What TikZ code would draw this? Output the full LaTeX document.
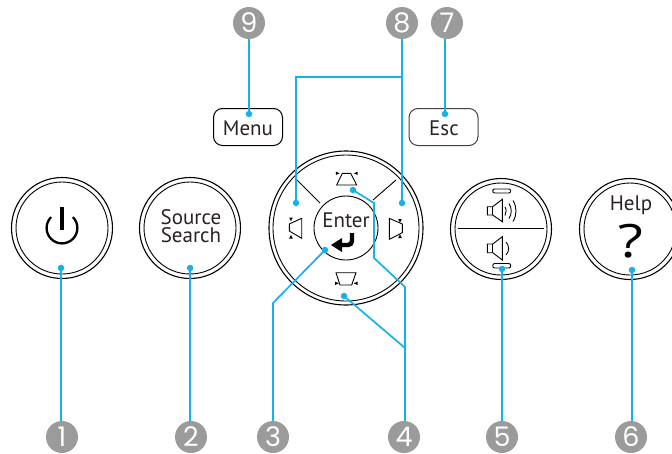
\documentclass[tikz,border=0pt]{standalone}
\usepackage{fontspec}
\setmainfont{PT Sans}
\definecolor{lead}{HTML}{16B1E8}
\definecolor{badgegray}{HTML}{9B9B9B}
\definecolor{ink}{HTML}{2A2122}
\newfontfamily\digitfont{Poppins}
\newfontfamily\qfont{Open Sans}
\tikzset{
  outerring/.style={circle,draw=black,line width=1.1pt,minimum size=#1,inner sep=0pt},
  innerring/.style={circle,draw=black,line width=0.9pt,minimum size=#1,inner sep=0pt},
  badge/.style={circle,fill=badgegray,minimum size=32pt,inner sep=0pt,text=white,font=\digitfont\fontsize{27}{27}\selectfont},
  keybox/.style={draw=black,line width=1pt,rounded corners=9pt,minimum width=69pt,minimum height=37pt,inner sep=0pt},
  label/.style={text=ink,inner sep=0pt,font=\fontsize{21}{21}\selectfont},
  dot/.style={circle,fill=lead,minimum size=6.5pt,inner sep=0pt},
  leader/.style={draw=lead,line width=1.7pt},
  icon/.style={draw=black,line width=0.9pt,line join=miter},
  tick/.style={fill=black,draw=none},
}
\begin{document}
\begin{tikzpicture}[x=1pt,y=-1pt]
\useasboundingbox (0,0) rectangle (672,453);
% buttons
\node[outerring=101pt] (power) at (62,228) {};
\node[innerring=92pt] at (62,228) {};
\node[outerring=101pt] (source) at (190,228) {};
\node[innerring=92pt] at (190,228) {};
\node[outerring=154pt] (pad) at (346,228) {};
\node[innerring=146pt] at (346,228) {};
\node[innerring=64pt] (enterkey) at (346,228) {};
\node[outerring=101pt] (volume) at (501,229) {};
\node[innerring=92pt] at (501,229) {};
\node[outerring=101pt] (help) at (630,229) {};
\node[innerring=92pt] at (630,229) {};
\node[keybox] (menu) at (248,127) {};
\node[keybox,draw=black!75] (esc) at (443.5,127) {};
% texts
\node[label,align=center,font=\fontsize{21}{18.5}\selectfont] (tsource) at (191,226) {Source\\Search};
\node[label] (tenter) at (346,220.5) {Enter};
\node[label] (thelp) at (631,205) {Help};
\node[label] (tmenu) at (248,128) {Menu};
\node[label] (tesc) at (444,128) {Esc};
\node[text=black,inner sep=0pt,xscale=1.25,transform shape,font=\qfont\fontsize{46}{46}\selectfont] (tq) at (631,241) {?};
% power glyph
\draw[black,line width=2.3pt] (51.1,217.1) arc[start angle=135,end angle=405,radius=15.4pt];
\draw[black,line width=4pt] (62,207) -- (62,229.5);
% spokes
\draw[icon] (297,180) -- (320,203);
\draw[icon] (396,180) -- (373,200);
% trapezoids
\draw[icon] (342.3,173.3) -- (350.7,173.3) -- (356.7,185) -- (336.7,185) -- cycle;
\draw[icon] (336,272.7) -- (356,272.7) -- (351.7,285) -- (340,285) -- cycle;
\draw[icon] (289.3,224) -- (301.7,218.3) -- (301.7,238.3) -- (289.3,231) -- cycle;
\draw[icon] (389.3,218.3) -- (402.3,224) -- (402.3,232.7) -- (389.3,239.3) -- cycle;
\fill[tick] (339.5,173.3) -- (335.8,171.6) -- (335.8,175) -- cycle;
\fill[tick] (354,173.3) -- (357.7,171.6) -- (357.7,175) -- cycle;
\fill[tick] (338.8,283.3) -- (335,281.6) -- (335,285) -- cycle;
\fill[tick] (353.7,283.3) -- (357.5,281.6) -- (357.5,285) -- cycle;
\fill[tick] (291,221) -- (289.2,217.5) -- (292.8,217.5) -- cycle;
\fill[tick] (291,235) -- (289.2,238.5) -- (292.8,238.5) -- cycle;
\fill[tick] (400,222.5) -- (398.2,219) -- (401.8,219) -- cycle;
\fill[tick] (400,234.5) -- (398.2,238) -- (401.8,238) -- cycle;
% enter arrow
\draw[black,line width=4.4pt,rounded corners=4pt] (352,233) -- (352,245) -- (338,245);
\fill[black] (331,245) -- (342,238) -- (342,252) -- cycle;
% volume
\draw[icon] (457.7,228.7) -- (544.3,228.7);
\draw[icon,rounded corners=2pt] (492.7,189) rectangle (510.7,193);
\draw[icon,rounded corners=2pt] (492.7,263.5) rectangle (510.7,268);
\draw[icon] (487.3,206.7) -- (492.7,206.7) -- (502.3,199.3) -- (502.3,221.7) -- (492.7,215) -- (487.3,215) -- cycle;
\draw[icon] (492.7,206.7) -- (492.7,215);
\draw[icon] (505,207) .. controls (506.5,209) and (506.5,213) .. (505,215.5);
\draw[icon] (509,203.5) .. controls (512,208) and (512,214) .. (509,218.5);
\draw[icon] (513,200.5) .. controls (517,207) and (517,215) .. (513,221.5);
\draw[icon] (487.3,244) -- (492.7,244) -- (502.3,236.7) -- (502.3,260) -- (492.7,252.7) -- (487.3,252.7) -- cycle;
\draw[icon] (492.7,244) -- (492.7,252.7);
\draw[icon] (506,242) .. controls (509.5,246) and (509.5,251) .. (506,255);
% badges
\node[badge] (b1) at (62,437) {1};
\node[badge] (b2) at (191,437) {2};
\node[badge] (b3) at (273,437) {3};
\node[badge] (b4) at (404,437) {4};
\node[badge] (b5) at (502,437) {5};
\node[badge] (b6) at (631,437) {6};
\node[badge] (b7) at (447,23) {7};
\node[badge] (b8) at (402,23) {8};
\node[badge] (b9) at (249,23) {9};
% dots
\node[dot] (d1) at (61,268) {};
\node[dot] (d2) at (190.1,268) {};
\node[dot] (d3) at (325,250) {};
\node[dot] (d4a) at (353,190) {};
\node[dot] (d4b) at (344,296) {};
\node[dot] (d5) at (502,269) {};
\node[dot] (d6) at (632,270) {};
\node[dot] (d7) at (445,114) {};
\node[dot] (d8a) at (296,203) {};
\node[dot] (d8b) at (402,203) {};
\node[dot] (d9) at (249,114) {};
% elbows
\coordinate (e3) at (273,303);
\coordinate (e4a) at (374,203);
\coordinate (e4b) at (374,258);
\coordinate (e4c) at (405,287);
\coordinate (e4d) at (405,348);
\coordinate (e8) at (296,77);
\coordinate (j8) at (402,77);
% leaders
\draw[leader] (d1.center) -- (d1.center |- b1.north);
\draw[leader] (d2.center) -- (d2.center |- b2.north);
\draw[leader,line join=miter] (d3.center) -- (e3) -- (e3 |- b3.north);
\draw[leader] (d4a.center) -- (e4a) -- (e4b) -- (e4c) -- (e4c |- b4.north);
\draw[leader] (d4b.center) -- (e4d);
\draw[leader] (d5.center) -- (d5.center |- b5.north);
\draw[leader] (d6.center) -- (d6.center |- b6.north);
\draw[leader] (d7.center) -- (d7.center |- b7.south);
\draw[leader] (d8b.center) -- (b8.south);
\draw[leader] (d8a.center) -- (e8) -- (j8);
\draw[leader] (d9.center) -- (b9.south);
\end{tikzpicture}
\end{document}
